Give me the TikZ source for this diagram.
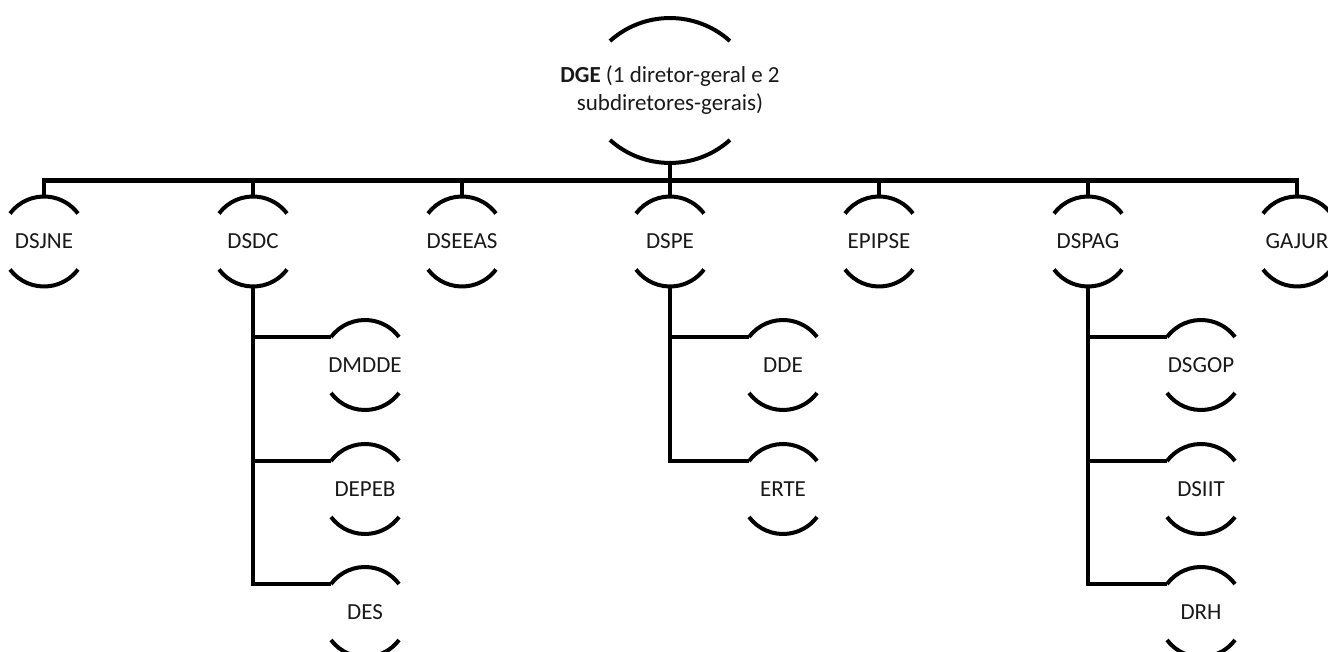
\documentclass[tikz,border=0pt]{standalone}
\usepackage{fontspec}
\setmainfont{Carlito}
\usetikzlibrary{calc}
\tikzset{
  unit/.style={font=\fontsize{23}{28}\selectfont, text=black!90, minimum width=68pt, minimum height=90pt, inner sep=0pt},
  bigunit/.style={font=\fontsize{23}{28}\selectfont, text=black!90, align=center, minimum width=120pt, minimum height=144pt, inner sep=0pt},
  arcline/.style={line width=4pt, black},
  conn/.style={line width=4.5pt, black, line join=miter},
}
\begin{document}
\begin{tikzpicture}[x=1pt,y=1pt]
\useasboundingbox (0,0) rectangle (1328,651);
% top
\node[bigunit] (dge) at (670,560.5) {\textbf{DGE} (1 diretor-geral e 2\\subdiretores-gerais)};
% first level
\node[unit] (dsjne)  at (44,409.5)   {DSJNE};
\node[unit] (dsdc)   at (253,409.5)  {DSDC};
\node[unit] (dseeas) at (462,409.5)  {DSEEAS};
\node[unit] (dspe)   at (670,409.5)  {DSPE};
\node[unit] (epipse) at (879,409.5)  {EPIPSE};
\node[unit] (dspag)  at (1088,409.5) {DSPAG};
\node[unit] (gajur)  at (1297,409.5) {GAJUR};
% second level
\node[unit] (dmdde) at (365,286) {DMDDE};
\node[unit] (depeb) at (365,162) {DEPEB};
\node[unit] (des)   at (365,39)  {DES};
\node[unit] (dde)   at (783,286) {DDE};
\node[unit] (erte)  at (783,162) {ERTE};
\node[unit] (dsgop) at (1201,286) {DSGOP};
\node[unit] (dsiit) at (1201,162) {DSIIT};
\node[unit] (drh)   at (1201,39)  {DRH};
% arcs
\draw[arcline] ($(dge.center)+(-60,49.5)$) arc[start angle=131.9, end angle=48.1, radius=89.8pt];
\draw[arcline] ($(dge.center)+(-60,-49.5)$) arc[start angle=228.1, end angle=311.9, radius=89.8pt];
\foreach \n in {dsjne,dsdc,dseeas,dspe,epipse,dspag,gajur,dmdde,depeb,des,dde,erte,dsgop,dsiit,drh}{
  \draw[arcline] ($(\n.center)+(-34,28)$) arc[start angle=143.13, end angle=36.87, radius=42.5pt];
  \draw[arcline] ($(\n.center)+(-34,-28)$) arc[start angle=216.87, end angle=323.13, radius=42.5pt];
  \coordinate (\n-tl) at ($(\n.center)+(-34,28)$);
}
% bus
\coordinate (bus) at (670,470.5);
\draw[conn] (dsjne.north) |- (bus) -| (gajur.north);
\draw[conn] (dge.south) -- (bus);
\foreach \n in {dsdc,dseeas,dspe,epipse,dspag}{
  \draw[conn] (\n.north) -- (\n.north |- bus);
}
% DSDC children
\draw[conn] (dsdc.south) |- (des-tl);
\draw[conn] (dmdde-tl) -- (dmdde-tl -| dsdc.south);
\draw[conn] (depeb-tl) -- (depeb-tl -| dsdc.south);
% DSPE children
\draw[conn] (dspe.south) |- (erte-tl);
\draw[conn] (dde-tl) -- (dde-tl -| dspe.south);
% DSPAG children
\draw[conn] (dspag.south) |- (drh-tl);
\draw[conn] (dsgop-tl) -- (dsgop-tl -| dspag.south);
\draw[conn] (dsiit-tl) -- (dsiit-tl -| dspag.south);
\end{tikzpicture}
\end{document}
